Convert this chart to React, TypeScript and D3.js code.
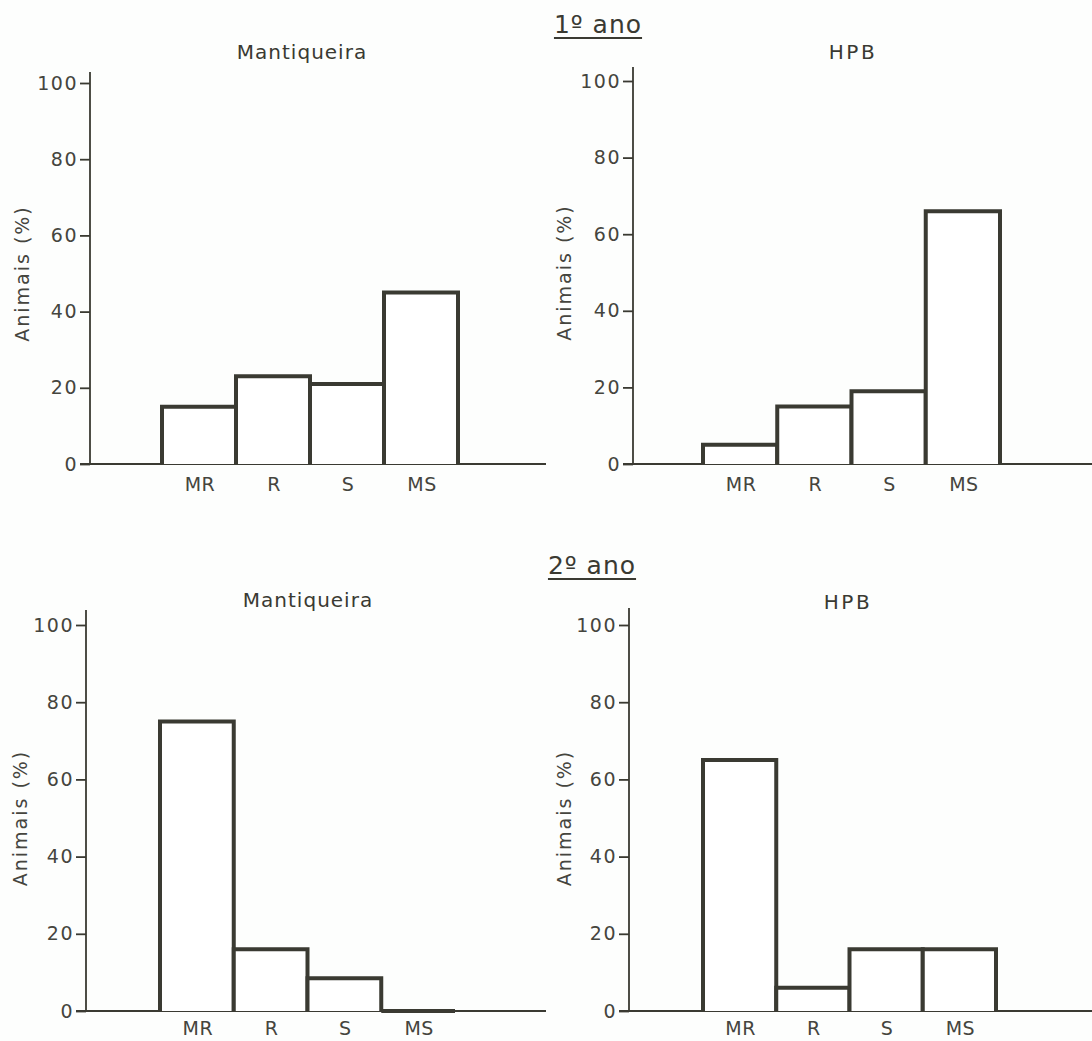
import React, { useEffect, useRef } from 'react';
import * as d3 from 'd3';

const categories = ['MR', 'R', 'S', 'MS'];
const yTicks = [0, 20, 40, 60, 80, 100];
const year1Mantiqueira = [15, 23, 21, 45];
const year1HPB = [5, 15, 19, 66];
const year2Mantiqueira = [75, 16, 8.5, 0];
const year2HPB = [65, 6, 16, 16];
const panelTitles = ['Mantiqueira', 'HPB', 'Mantiqueira', 'HPB'];
const yearTitles = ['1º ano', '2º ano'];
const yLabel = 'Animais (%)';

const INK = '#3a3a32';
const FONT = '"DejaVu Sans", sans-serif';

// layout of each panel (pixels)
const panels = [
  { values: year1Mantiqueira, axisX: 90, y0: 464, y100: 83, top: 72, bars: [162, 458], lineEnd: 546, titleX: 302, titleY: 59, labelX: 22, catDy: 27 },
  { values: year1HPB, axisX: 633, y0: 464, y100: 81, top: 67, bars: [703, 1000], lineEnd: 1092, titleX: 853, titleY: 59, labelX: 564, catDy: 27 },
  { values: year2Mantiqueira, axisX: 86, y0: 1011, y100: 625, top: 610, bars: [160, 455], lineEnd: 546, titleX: 308, titleY: 607, labelX: 20, catDy: 24 },
  { values: year2HPB, axisX: 629, y0: 1011, y100: 625, top: 608, bars: [703, 996], lineEnd: 1092, titleX: 848, titleY: 609, labelX: 564, catDy: 24 },
];
const yearPos = [
  { x: 598, y: 33 },
  { x: 592, y: 574 },
];

const App = () => {
  const svgRef = useRef<SVGSVGElement>(null);

  useEffect(() => {
    const svg = d3.select(svgRef.current);
    svg.selectAll('*').remove();

    svg.append('rect').attr('width', 1092).attr('height', 1041).attr('fill', '#fdfefd');

    panels.forEach((p, i) => {
      const g = svg.append('g');
      const y = d3.scaleLinear().domain([0, 100]).range([p.y0, p.y100]);
      const x = d3.scaleBand().domain(categories).range(p.bars).padding(0);

      // y axis
      const axis = g
        .append('g')
        .attr('transform', `translate(${p.axisX},0)`)
        .call(d3.axisLeft(y).tickValues(yTicks).tickSize(10).tickPadding(2).tickSizeOuter(0));
      axis.select('.domain').remove();
      axis.selectAll('.tick line').attr('stroke', INK).attr('stroke-width', 1.8);
      axis
        .selectAll('.tick text')
        .attr('fill', '#45453e')
        .style('font-family', FONT)
        .style('font-size', '19px')
        .style('letter-spacing', '1.5px');

      g.append('line')
        .attr('x1', p.axisX).attr('x2', p.axisX)
        .attr('y1', p.top).attr('y2', p.y0)
        .attr('stroke', INK).attr('stroke-width', 1.8);

      // baseline
      g.append('line')
        .attr('x1', p.axisX - 10).attr('x2', p.lineEnd)
        .attr('y1', p.y0).attr('y2', p.y0)
        .attr('stroke', INK).attr('stroke-width', 2);

      // bars (open at bottom, drawn as outlines)
      g.selectAll('.bar')
        .data(p.values)
        .join('path')
        .attr('class', 'bar')
        .attr('d', (d, j) => {
          const x0 = x(categories[j])!;
          const x1 = x0 + x.bandwidth();
          return `M${x0},${y(0)}V${y(d)}H${x1}V${y(0)}`;
        })
        .attr('fill', '#ffffff')
        .attr('stroke', INK)
        .attr('stroke-width', 4)
        .attr('stroke-linejoin', 'miter');

      // category labels
      g.selectAll('.cat')
        .data(categories)
        .join('text')
        .attr('class', 'cat')
        .attr('x', (d) => x(d)! + x.bandwidth() / 2 + 1)
        .attr('y', p.y0 + p.catDy)
        .attr('text-anchor', 'middle')
        .attr('fill', '#45453e')
        .style('font-family', FONT)
        .style('font-size', '19px')
        .style('letter-spacing', '0.5px')
        .text((d) => d);

      // panel title
      g.append('text')
        .attr('x', p.titleX)
        .attr('y', p.titleY)
        .attr('text-anchor', 'middle')
        .attr('fill', INK)
        .style('font-family', FONT)
        .style('font-size', '20px')
        .style('letter-spacing', panelTitles[i] === 'HPB' ? '2.5px' : '1px')
        .text(panelTitles[i]);

      // y axis label
      g.append('text')
        .attr('transform', `translate(${p.labelX},${(p.y0 + p.y100) / 2}) rotate(-90)`)
        .attr('text-anchor', 'middle')
        .attr('dy', '0.35em')
        .attr('fill', '#45453e')
        .style('font-family', FONT)
        .style('font-size', '19px')
        .style('letter-spacing', '2px')
        .text(yLabel);
    });

    // year headers, underlined
    yearTitles.forEach((t, i) => {
      const txt = svg
        .append('text')
        .attr('x', yearPos[i].x)
        .attr('y', yearPos[i].y)
        .attr('text-anchor', 'middle')
        .attr('fill', INK)
        .style('font-family', FONT)
        .style('font-size', '25px')
        .style('letter-spacing', '1px')
        .text(t);
      const bb = (txt.node() as SVGTextElement).getBBox();
      svg
        .append('line')
        .attr('x1', bb.x)
        .attr('x2', bb.x + bb.width)
        .attr('y1', yearPos[i].y + 5)
        .attr('y2', yearPos[i].y + 5)
        .attr('stroke', INK)
        .attr('stroke-width', 2);
    });
  }, []);

  return (
    <div style={{ position: 'absolute', left: 0, top: 0 }}>
      <svg ref={svgRef} width={1092} height={1041} style={{ display: 'block' }}></svg>
    </div>
  );
};

export default App;
